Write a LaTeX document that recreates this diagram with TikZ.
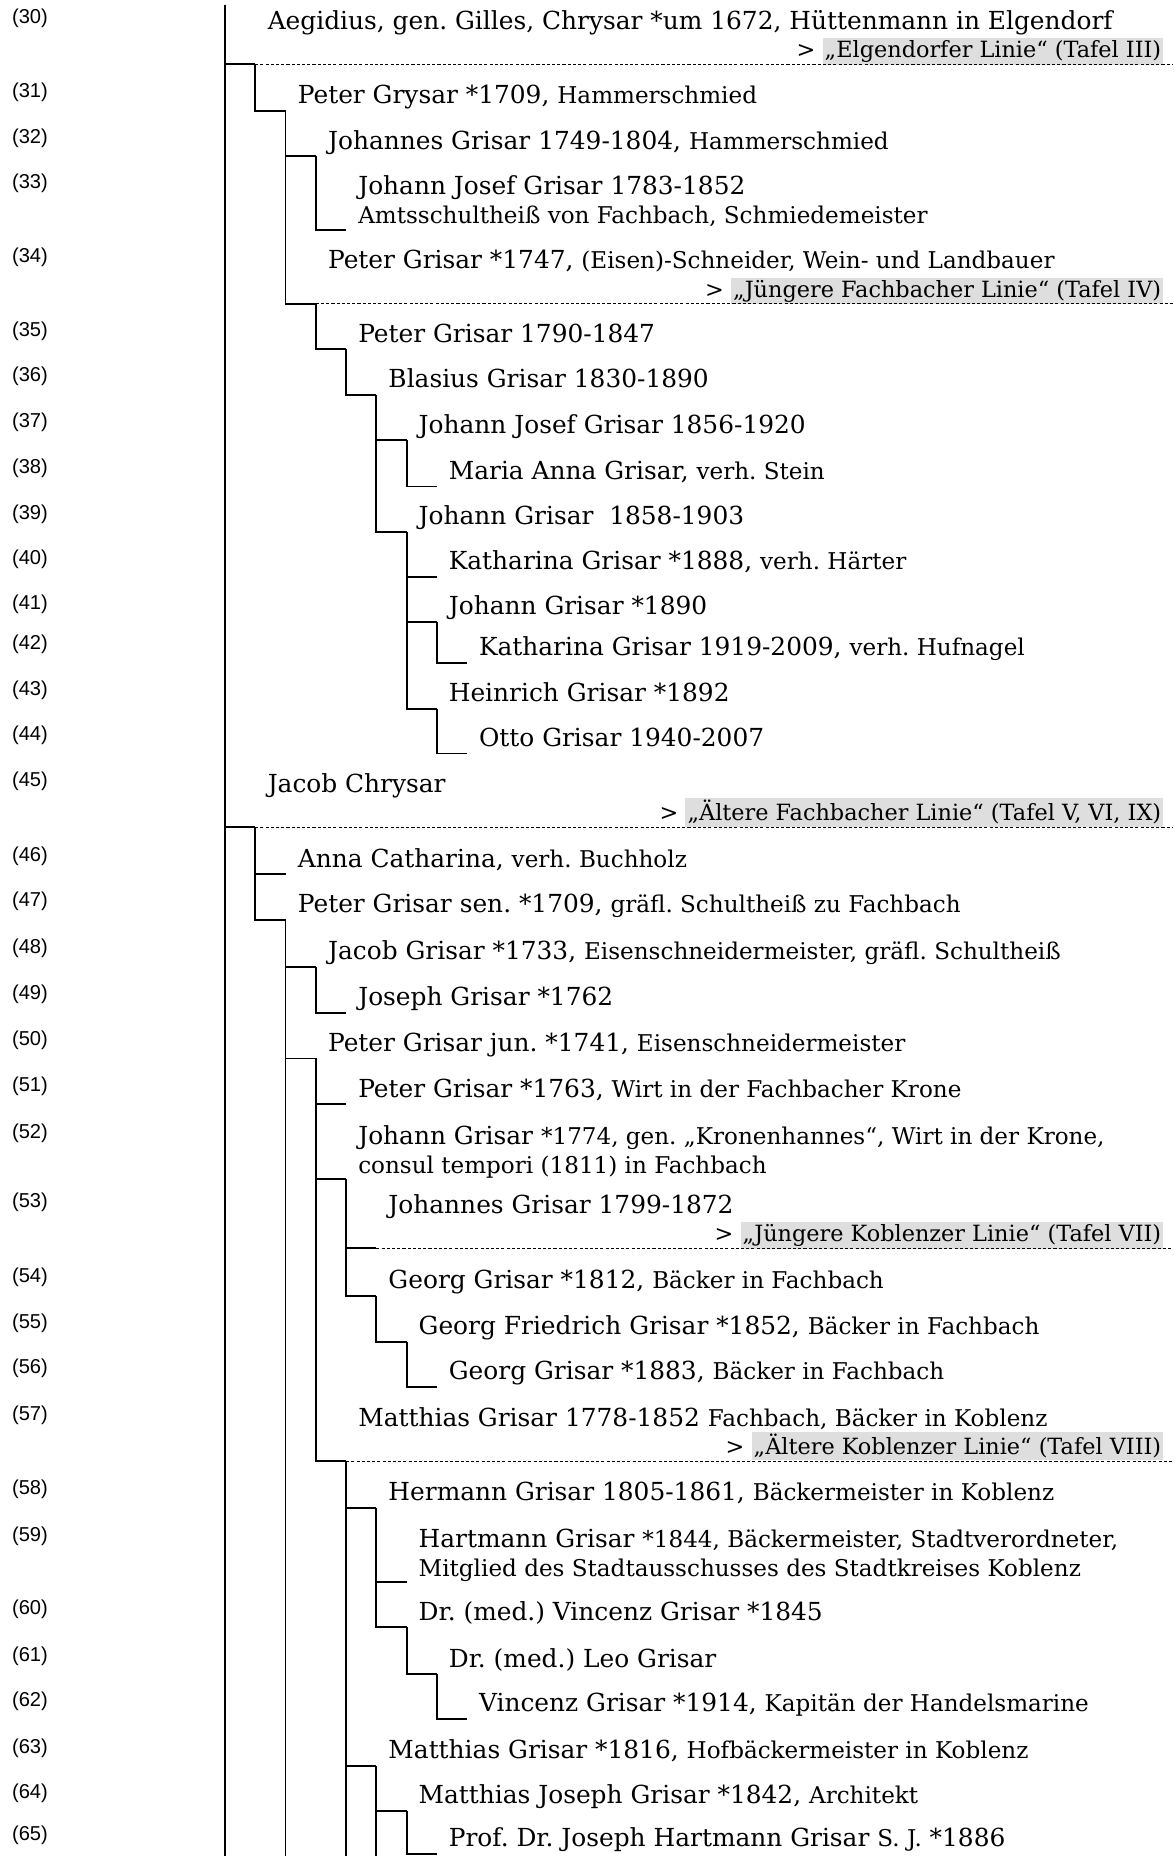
\documentclass[tikz,border=0pt]{standalone}
\usepackage{fontspec}
\setmainfont{DejaVu Serif}
\newfontfamily\numfont{Liberation Sans}
\usetikzlibrary{positioning}

\definecolor{linkgray}{RGB}{222,222,222}
\setlength{\fboxsep}{1.8pt}
\newcommand{\desc}[1]{{\fontsize{19.5}{23}\selectfont #1}}
\newcommand{\tafel}[1]{\colorbox{linkgray}{#1}}
\frenchspacing

\begin{document}
\begin{tikzpicture}[x=1pt, y=-1pt,
    person/.style={anchor=base west, inner sep=0pt, font=\fontsize{21}{25}\selectfont},
    num/.style={anchor=base west, inner sep=0pt, font=\numfont\fontsize{17}{20}\selectfont},
    link/.style={anchor=base east, inner sep=0pt, font=\fontsize{18.9}{22}\selectfont},
    hook/.style={line width=1.6pt},
    sep/.style={line width=0.7pt, dash pattern=on 2.6pt off 1.8pt}]
    \fill[white] (0,0) rectangle (991,1568);
    \useasboundingbox (0,0) rectangle (991,1568);

    % row numbers
    \foreach \n/\y in {30/20, 31/82.6, 32/121, 33/159.5, 34/222, 35/284, 36/322.7, 37/361,
        38/400, 39/438.5, 40/476.5, 41/514.5, 42/549, 43/587.6, 44/625.6, 45/664.5,
        46/727.6, 47/766, 48/805.7, 49/844.5, 50/883.2, 51/921.9, 52/961.7, 53/1020.3,
        54/1083.7, 55/1122.4, 56/1160.5, 57/1200, 58/1262.8, 59/1302, 60/1363.8,
        61/1403.6, 62/1441.3, 63/1481, 64/1519, 65/1555}
        \node[num] (n\n) at (10,\y) {(\n)};

    % persons
    \node[person] (p30) at (226,25) {Aegidius, gen. Gilles, Chrysar *um 1672, Hüttenmann in Elgendorf};
    \node[link] (l30) at (983,48.5) {> \tafel{„Elgendorfer Linie“ (Tafel III)}};
    \node[person] (p31) at (251.5,87.6) {Peter Grysar *1709, \desc{Hammerschmied}};
    \node[person] (p32) at (277,126) {Johannes Grisar 1749-1804, \desc{Hammerschmied}};
    \node[person] (p33) at (302.5,164.5) {Johann Josef Grisar 1783-1852};
    \node[person] (p33b) at (302.5,189) {\desc{Amtsschultheiß von Fachbach, Schmiedemeister}};
    \node[person] (p34) at (277,227) {Peter Grisar *1747, \desc{(Eisen)-Schneider, Wein- und Landbauer}};
    \node[link] (l34) at (983,251) {> \tafel{„Jüngere Fachbacher Linie“ (Tafel IV)}};
    \node[person] (p35) at (302.5,289) {Peter Grisar 1790-1847};
    \node[person] (p36) at (328,327.7) {Blasius Grisar 1830-1890};
    \node[person] (p37) at (353.5,366) {Johann Josef Grisar 1856-1920};
    \node[person] (p38) at (379,405) {Maria Anna Grisar, \desc{verh. Stein}};
    \node[person] (p39) at (353.5,443.5) {Johann Grisar\ \ 1858-1903};
    \node[person] (p40) at (379,481.5) {Katharina Grisar *1888, \desc{verh. Härter}};
    \node[person] (p41) at (379,519.5) {Johann Grisar *1890};
    \node[person] (p42) at (404.5,554) {Katharina Grisar 1919-2009, \desc{verh. Hufnagel}};
    \node[person] (p43) at (379,592.6) {Heinrich Grisar *1892};
    \node[person] (p44) at (404.5,630.6) {Otto Grisar 1940-2007};
    \node[person] (p45) at (226,669.5) {Jacob Chrysar};
    \node[link] (l45) at (983,693.5) {> \tafel{„Ältere Fachbacher Linie“ (Tafel V, VI, IX)}};
    \node[person] (p46) at (251.5,732.6) {Anna Catharina, \desc{verh. Buchholz}};
    \node[person] (p47) at (251.5,771) {Peter Grisar sen. *1709, \desc{gräfl. Schultheiß zu Fachbach}};
    \node[person] (p48) at (277,810.7) {Jacob Grisar *1733, \desc{Eisenschneidermeister, gräfl. Schultheiß}};
    \node[person] (p49) at (302.5,849.5) {Joseph Grisar *1762};
    \node[person] (p50) at (277,888.2) {Peter Grisar jun. *1741, \desc{Eisenschneidermeister}};
    \node[person] (p51) at (302.5,926.9) {Peter Grisar *1763, \desc{Wirt in der Fachbacher Krone}};
    \node[person] (p52) at (302.5,966.7) {Johann Grisar \desc{*1774, gen. „Kronenhannes“, Wirt in der Krone,}};
    \node[person] (p52b) at (302.5,991.2) {\desc{consul tempori (1811) in Fachbach}};
    \node[person] (p53) at (328,1025.3) {Johannes Grisar 1799-1872};
    \node[link] (l53) at (983,1048.8) {> \tafel{„Jüngere Koblenzer Linie“ (Tafel VII)}};
    \node[person] (p54) at (328,1088.7) {Georg Grisar *1812, \desc{Bäcker in Fachbach}};
    \node[person] (p55) at (353.5,1127.4) {Georg Friedrich Grisar *1852, \desc{Bäcker in Fachbach}};
    \node[person] (p56) at (379,1165.5) {Georg Grisar *1883, \desc{Bäcker in Fachbach}};
    \node[person] (p57) at (302.5,1205) {Matthias Grisar 1778-1852 \desc{Fachbach, Bäcker in Koblenz}};
    \node[link] (l57) at (983,1229) {> \tafel{„Ältere Koblenzer Linie“ (Tafel VIII)}};
    \node[person] (p58) at (328,1267.8) {Hermann Grisar 1805-1861, \desc{Bäckermeister in Koblenz}};
    \node[person] (p59) at (353.5,1307) {Hartmann Grisar \desc{*1844, Bäckermeister, Stadtverordneter,}};
    \node[person] (p59b) at (353.5,1331.5) {\desc{Mitglied des Stadtausschusses des Stadtkreises Koblenz}};
    \node[person] (p60) at (353.5,1368.8) {Dr. (med.) Vincenz Grisar *1845};
    \node[person] (p61) at (379,1408.6) {Dr. (med.) Leo Grisar};
    \node[person] (p62) at (404.5,1446.3) {Vincenz Grisar *1914, \desc{Kapitän der Handelsmarine}};
    \node[person] (p63) at (328,1486) {Matthias Grisar *1816, \desc{Hofbäckermeister in Koblenz}};
    \node[person] (p64) at (353.5,1524) {Matthias Joseph Grisar *1842, \desc{Architekt}};
    \node[person] (p65) at (379,1560) {Prof. Dr. Joseph Hartmann Grisar \desc{S. J.} *1886};

    % hook corners (end of each person's hook)
    \coordinate (top) at (190,4);
    \coordinate (bot) at (190,1568);
    \coordinate (redge) at (991,0);
    \foreach \r/\x/\y in {30/215.6/54, 31/241.2/93.6, 32/266.8/132, 33/292.4/194, 34/266.8/256.6,
        35/292.4/295, 36/318/333.7, 37/343.6/372, 38/369.2/411, 39/343.6/449.5, 40/369.2/487.5,
        41/369.2/525.5, 42/394.8/560, 43/369.2/598.6, 44/394.8/636.6, 45/215.6/699,
        46/241.2/738.6, 47/241.2/777, 48/266.8/816.7, 49/292.4/855.5, 50/266.8/894.2,
        51/292.4/932.9, 52/292.4/996.2, 53/318/1054.3, 54/318/1094.7, 55/343.6/1133.4,
        56/369.2/1171.5, 57/292.4/1234.4, 58/318/1273.8, 59/343.6/1336.5, 60/343.6/1374.8,
        61/369.2/1414.6, 62/394.8/1452.3, 63/318/1492, 64/343.6/1530, 65/369.2/1566}
        \coordinate (e\r) at (\x,\y);

    % tree lines
    \draw[hook] (top) -- (bot);
    \draw[hook] (top) |- (e30);
    \draw[hook] (top) |- (e45);
    \foreach \c/\p in {31/30, 32/31, 33/32, 34/31, 35/34, 36/35, 37/36, 38/37, 39/36, 40/39,
        41/39, 42/41, 43/39, 44/43, 46/45, 47/45, 48/47, 49/48, 50/47, 51/50, 52/50, 53/52,
        54/52, 55/54, 56/55, 57/50, 58/57, 59/58, 60/58, 61/60, 62/61, 63/57, 64/63, 65/64}
        \draw[hook] (e\p) |- (e\c);
    \draw[hook] (e47) -- (e47 |- bot);
    \draw[hook] (e57) -- (e57 |- bot);
    \draw[hook] (e63) -- (e63 |- bot);

    % lines continued on other plates
    \foreach \r in {30, 34, 45, 53, 57}
        \draw[sep] (e\r) -- (e\r -| redge);
\end{tikzpicture}
\end{document}
